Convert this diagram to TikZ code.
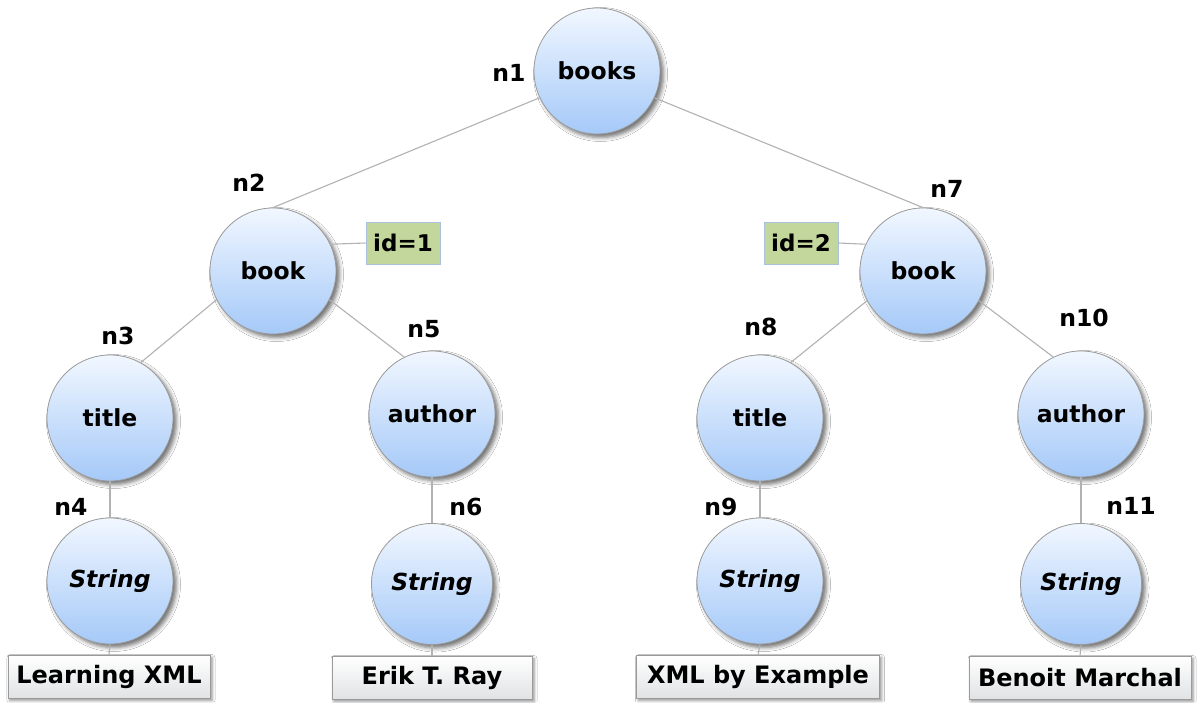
\documentclass[tikz,border=0pt]{standalone}
\usepackage{fontspec}
\setmainfont{DejaVu Sans}
\usetikzlibrary{shadows.blur}

\definecolor{balltop}{HTML}{F1F7FF}
\definecolor{ballbot}{HTML}{A5C9F8}
\definecolor{rimgray}{HTML}{9A9A9A}
\definecolor{linkgray}{HTML}{B2B2B2}
\definecolor{attrgreen}{HTML}{C3D69B}
\definecolor{attrrim}{HTML}{A9C1DC}
\definecolor{leaftop}{HTML}{FFFFFF}
\definecolor{leafbot}{HTML}{E0E2E4}

\tikzset{
  elem/.style={circle, draw=rimgray, line width=0.8pt,
    top color=balltop, bottom color=ballbot, inner sep=0pt,
    font=\bfseries\fontsize{23.5}{28}\selectfont,
    blur shadow={shadow xshift=3.5pt, shadow yshift=-3.5pt,
      shadow blur radius=4pt, shadow opacity=55}},
  big/.style={minimum size=126pt},
  small/.style={minimum size=121pt},
  leaf/.style={rectangle, draw=rimgray, line width=0.8pt,
    top color=leaftop, bottom color=leafbot, minimum height=43pt,
    inner sep=0pt, font=\bfseries\fontsize{24}{28}\selectfont,
    blur shadow={shadow xshift=2pt, shadow yshift=-2pt,
      shadow blur radius=3pt, shadow opacity=45}},
  attr/.style={rectangle, draw=attrrim, line width=0.8pt, fill=attrgreen,
    minimum width=74pt, minimum height=42pt, inner sep=0pt,
    font=\bfseries\fontsize{23}{27}\selectfont},
  tag/.style={font=\bfseries\fontsize{23.5}{28}\selectfont, inner sep=0pt},
  link/.style={draw=linkgray, line width=1.1pt}
}

\begin{document}
\begin{tikzpicture}[x=1pt,y=-1pt]
  \fill[white] (0,0) rectangle (1198,702);
  \useasboundingbox (0,0) rectangle (1198,702);

  % element nodes
  \node[elem,big]   (n1)  at (597,71)  {books};
  \node[elem,big]   (n2)  at (273,271) {book};
  \node[elem,big]   (n3)  at (110,418) {title};
  \node[elem,big]   (n4)  at (110,581) {\textit{String}};
  \node[elem,big]   (n5)  at (432,414) {author};
  \node[elem,small] (n6)  at (432,584) {\textit{String}};
  \node[elem,big]   (n7)  at (923,271) {book};
  \node[elem,big]   (n8)  at (760,418) {title};
  \node[elem,big]   (n9)  at (760,581) {\textit{String}};
  \node[elem,big]   (n10) at (1081,414) {author};
  \node[elem,small] (n11) at (1081,584) {\textit{String}};

  % node ids
  \node[tag] (l1)  at (509,73)  {n1};
  \node[tag] (l2)  at (249,183) {n2};
  \node[tag] (l3)  at (118,336) {n3};
  \node[tag] (l4)  at (71,507)  {n4};
  \node[tag] (l5)  at (424,329) {n5};
  \node[tag] (l6)  at (466,507) {n6};
  \node[tag] (l7)  at (947,189) {n7};
  \node[tag] (l8)  at (761,327) {n8};
  \node[tag] (l9)  at (721,507) {n9};
  \node[tag] (l10) at (1084,318) {n10};
  \node[tag] (l11) at (1131,506) {n11};

  % attributes
  \node[attr] (a1) at (403,243) {id=1};
  \node[attr] (a2) at (801,243) {id=2};

  % text values
  \node[leaf,minimum width=202pt] (t1) at (109,677) {Learning XML};
  \node[leaf,minimum width=200pt] (t2) at (432,678) {Erik T. Ray};
  \node[leaf,minimum width=243pt] (t3) at (758,677) {XML by Example};
  \node[leaf,minimum width=222pt] (t4) at (1080,678) {Benoit Marchal};

  % tree edges
  \draw[link] (n1.205) -- (n2.north);
  \draw[link] (n1.335) -- (n7.north);
  \draw[link] (n2.207) -- (n3.61);
  \draw[link] (n2.333) -- (n5.116);
  \draw[link] (n7.208) -- (n8.61);
  \draw[link] (n7.332) -- (n10.116);
  \draw[link] (n3.south) -- (n4.north);
  \draw[link] (n5.south) -- (n6.north);
  \draw[link] (n8.south) -- (n9.north);
  \draw[link] (n10.south) -- (n11.north);
  \draw[link] (n4.south) -- (t1.north);
  \draw[link] (n6.south) -- (t2.north);
  \draw[link] (n9.south) -- (t3.north);
  \draw[link] (n11.south) -- (t4.north);
  \draw[link] (n2.25) -- (a1.west);
  \draw[link] (n7.155) -- (a2.east);
\end{tikzpicture}
\end{document}
